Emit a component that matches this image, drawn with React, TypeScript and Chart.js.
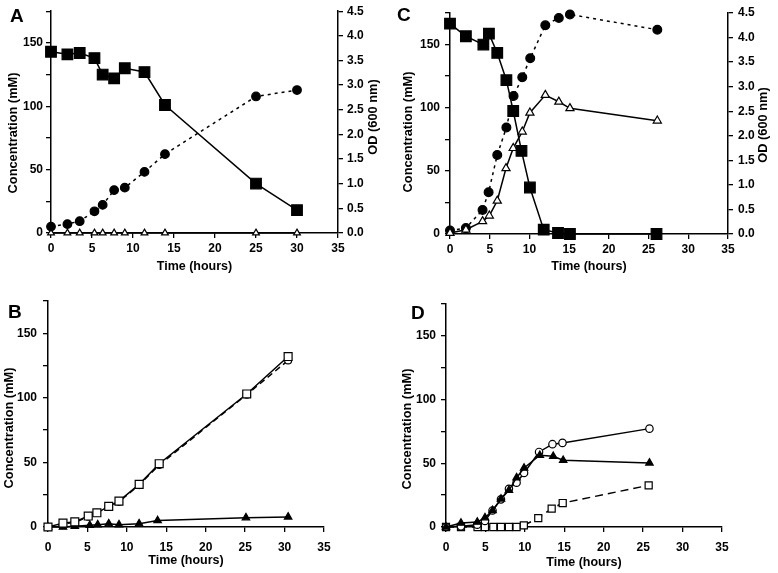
import React, { useEffect, useRef } from 'react';
import { Chart, registerables } from 'chart.js';
Chart.register(...registerables);

const FONT = '"Liberation Sans", Arial, Helvetica, sans-serif';

// ---------- Panel A ----------
const aTime = [0, 2, 3.5, 5.3, 6.3, 7.7, 9, 11.4, 13.9, 25, 30];
const aSquares = [143, 141, 142, 138, 125, 122, 130, 127, 101, 39, 18];
const aOD = [0.13, 0.18, 0.24, 0.44, 0.57, 0.87, 0.92, 1.24, 1.6, 2.77, 2.9];
const aTriangles = [0, 0, 0, 0, 0, 0, 0, 0, 0, 0, 0];

// ---------- Panel B ----------
const bSqTime = [0, 1.9, 3.4, 5.1, 6.2, 7.7, 9.0, 11.56, 14.1, 25.2, 30.45];
const bSquares = [0, 3, 4, 8.5, 11, 16, 20, 33, 49, 103, 132];
const bCircles = [0, 2.5, 3.5, 8, 11, 16, 19.5, 32.5, 48, 102.5, 129];
const bTriTime = [0, 1.9, 3.4, 5.3, 6.3, 7.7, 9.0, 11.55, 13.9, 25.1, 30.45];
const bTriangles = [0, 0, 0.5, 1.3, 1.8, 2.6, 1.8, 2.6, 5, 7.2, 7.8];

// ---------- Panel C ----------
const cSqTime = [0, 2, 4.2, 4.9, 5.95, 7.1, 7.96, 9.0, 10.06, 11.8, 13.6, 15.1, 26];
const cSquares = [166.6, 156.6, 150, 158.7, 143.4, 121.8, 97.4, 65.8, 36.8, 3.4, 0.8, 0, 0];
const cODTime = [0, 2, 4.1, 4.86, 5.95, 7.1, 8.0, 9.1, 10.1, 12.0, 13.7, 15.1, 26.1];
const cOD = [0.07, 0.12, 0.49, 0.85, 1.61, 2.17, 2.81, 3.19, 3.58, 4.25, 4.4, 4.47, 4.16];
const cTriTime = [0, 2, 4.1, 4.95, 5.95, 7.05, 7.96, 9.1, 10.06, 12.0, 13.7, 15.1, 26.1];
const cTriangles = [0.8, 3.4, 10, 14.5, 26.3, 52, 68, 81, 96, 110, 104.7, 99.5, 89.7];

// ---------- Panel D ----------
const dCircTime = [0, 1.9, 3.97, 4.94, 5.9, 6.97, 7.98, 8.95, 9.9, 11.8, 13.5, 14.77, 25.8];
const dCircles = [0, 0.5, 1.8, 4.7, 13, 21.7, 30, 34.8, 42.4, 58.9, 65, 66, 77.2];
const dTriTime = [0, 1.9, 3.97, 4.94, 5.9, 6.97, 7.98, 8.95, 9.9, 11.9, 13.6, 14.86, 25.8];
const dTriangles = [0, 3.1, 3.9, 7.3, 13, 22, 28.8, 38.7, 46.3, 56.3, 55.5, 52.4, 50.3];
const dSqTime = [0, 1.9, 4, 4.94, 6.0, 6.97, 7.98, 8.95, 9.87, 11.7, 13.4, 14.8, 25.7];
const dSquares = [0, 0, 0, 0, 0, 0, 0, 0, 1.3, 7, 14.4, 18.8, 32.7];

// Axis settings
const X_MIN = 0, X_MAX = 35, X_STEP = 5;
const Y_MIN = 0, Y_MAX = 175, Y_STEP = 25, Y_LABEL_EVERY = 50;
const OD_MIN = 0, OD_MAX = 4.5, OD_STEP = 0.5;
const X_TITLE = 'Time (hours)';
const Y_TITLE = 'Concentration (mM)';
const Y2_TITLE = 'OD (600 nm)';

const pts = (xs: number[], ys: number[]) => xs.map((x, i) => ({ x, y: ys[i] }));

function series(data: any[], o: any) {
  return {
    data,
    borderColor: '#000',
    borderWidth: 1.5,
    borderDash: o.dash || [],
    pointStyle: o.style,
    pointRadius: o.r,
    pointHoverRadius: o.r,
    pointBackgroundColor: o.fill,
    pointBorderColor: '#000',
    pointBorderWidth: 1.2,
    fill: false,
    tension: 0,
    clip: false,
    showLine: true,
    yAxisID: o.axis || 'y',
  };
}

function textPlugin(items: any[]) {
  return {
    id: 'texts',
    afterDraw(chart: any) {
      const ctx = chart.ctx;
      items.forEach((it) => {
        ctx.save();
        ctx.font = it.font;
        ctx.fillStyle = '#000';
        ctx.textAlign = it.align || 'center';
        ctx.textBaseline = it.baseline || 'middle';
        ctx.translate(it.x, it.y);
        ctx.rotate(it.rot || 0);
        ctx.fillText(it.text, 0, 0);
        ctx.restore();
      });
    },
  };
}

const tickFont = { family: FONT, size: 12, weight: 'bold' as const };
const titleFont = { family: FONT, size: 12.5, weight: 'bold' as const };

function makePanel(canvas: HTMLCanvasElement, s: any) {
  const scales: any = {
    x: {
      type: 'linear',
      position: 'bottom',
      min: X_MIN,
      max: X_MAX,
      ticks: { stepSize: X_STEP, font: tickFont, color: '#000', padding: s.xTickPad, maxRotation: 0, autoSkip: false },
      grid: { display: true, drawOnChartArea: false, drawTicks: true, tickLength: 5, color: '#000', lineWidth: 1.3 },
      border: { display: true, color: '#000', width: 1.5 },
      title: { display: true, text: X_TITLE, font: titleFont, color: '#000', padding: { top: 0, bottom: s.xTitlePad } },
      afterFit: (sc: any) => { sc.height = s.xHeight; },
    },
    y: {
      type: 'linear',
      position: 'left',
      min: Y_MIN,
      max: Y_MAX,
      ticks: {
        stepSize: Y_STEP, font: tickFont, color: '#000', padding: s.yTickPad, autoSkip: false,
        callback: (v: any) => (Number(v) % Y_LABEL_EVERY === 0 ? String(v) : ''),
      },
      grid: { display: true, drawOnChartArea: false, drawTicks: true, tickLength: 5, color: '#000', lineWidth: 1.3 },
      border: { display: true, color: '#000', width: 1.5 },
      afterFit: (sc: any) => { sc.width = s.yWidth; },
    },
  };
  if (s.y2Width) {
    scales.y2 = {
      type: 'linear',
      position: 'right',
      min: OD_MIN,
      max: OD_MAX,
      ticks: {
        stepSize: OD_STEP, font: tickFont, color: '#000', padding: s.y2TickPad, autoSkip: false,
        callback: (v: any) => Number(v).toFixed(1),
      },
      grid: { display: true, drawOnChartArea: false, drawTicks: true, tickLength: 5, color: '#000', lineWidth: 1.3 },
      border: { display: true, color: '#000', width: 1.5 },
      afterFit: (sc: any) => { sc.width = s.y2Width; },
    };
  }
  const texts: any[] = [
    { text: s.letter, x: s.letterPos[0], y: s.letterPos[1], font: `bold 19px ${FONT}`, align: 'left', baseline: 'alphabetic' },
    { text: Y_TITLE, x: s.yTitlePos[0], y: s.yTitlePos[1], rot: -Math.PI / 2, font: `bold 12.8px ${FONT}` },
  ];
  if (s.y2TitlePos) {
    texts.push({ text: Y2_TITLE, x: s.y2TitlePos[0], y: s.y2TitlePos[1], rot: -Math.PI / 2, font: `bold 12.8px ${FONT}` });
  }
  return new Chart(canvas, {
    type: 'line',
    data: { datasets: s.datasets },
    options: {
      animation: false,
      responsive: false,
      maintainAspectRatio: false,
      devicePixelRatio: 1,
      events: [],
      layout: { padding: { top: s.padTop, right: s.padRight, left: 0, bottom: 0 } },
      plugins: { legend: { display: false }, tooltip: { enabled: false } },
      scales,
    } as any,
    plugins: [textPlugin(texts)],
  });
}

const panels = [
  {
    left: 0, top: 0, width: 389, height: 275,
    padTop: 9, padRight: 0, yWidth: 51, y2Width: 51, xHeight: 42,
    xTickPad: 3, xTitlePad: 1, yTickPad: 3, y2TickPad: 4,
    letter: 'A', letterPos: [10, 22], yTitlePos: [13.3, 133], y2TitlePos: [373.3, 117],
    datasets: () => [
      series(pts(aTime, aSquares), { style: 'rect', r: 7.5, fill: '#000' }),
      series(pts(aTime, aOD), { style: 'circle', r: 4.3, fill: '#000', dash: [3, 4], axis: 'y2' }),
      series(pts(aTime, aTriangles), { style: 'triangle', r: 3.9, fill: '#fff' }),
    ],
  },
  {
    left: 0, top: 275, width: 389, height: 298,
    padTop: 26, padRight: 65, yWidth: 48, xHeight: 46,
    xTickPad: 8, xTitlePad: 4.5, yTickPad: 6,
    letter: 'B', letterPos: [8, 43], yTitlePos: [9, 153],
    datasets: () => [
      series(pts(bSqTime, bSquares), { style: 'rect', r: 5.6, fill: '#fff' }),
      series(pts(bTriTime, bTriangles), { style: 'triangle', r: 4.3, fill: '#000' }),
      series(pts(bSqTime, bCircles), { style: 'circle', r: 3.5, fill: '#fff', dash: [6, 4] }),
    ],
  },
  {
    left: 389, top: 0, width: 389, height: 275,
    padTop: 13, padRight: 0, yWidth: 61, y2Width: 50, xHeight: 41,
    xTickPad: 3, xTitlePad: 1, yTickPad: 5, y2TickPad: 5,
    letter: 'C', letterPos: [8, 21], yTitlePos: [19.3, 132], y2TitlePos: [374.3, 125],
    datasets: () => [
      series(pts(cSqTime, cSquares), { style: 'rect', r: 7.5, fill: '#000' }),
      series(pts(cTriTime, cTriangles), { style: 'triangle', r: 4.7, fill: '#fff' }),
      series(pts(cODTime, cOD), { style: 'circle', r: 4.4, fill: '#000', dash: [3, 4], axis: 'y2' }),
    ],
  },
  {
    left: 389, top: 275, width: 389, height: 298,
    padTop: 29, padRight: 56, yWidth: 57, xHeight: 46,
    xTickPad: 8, xTitlePad: 2.5, yTickPad: 5,
    letter: 'D', letterPos: [22, 44], yTitlePos: [18.3, 154],
    datasets: () => [
      series(pts(dTriTime, dTriangles), { style: 'triangle', r: 4.3, fill: '#000' }),
      series(pts(dCircTime, dCircles), { style: 'circle', r: 3.7, fill: '#fff' }),
      series(pts(dSqTime, dSquares), { style: 'rect', r: 5, fill: '#fff', dash: [8, 5] }),
    ],
  },
];

export default function App() {
  const refs = useRef<(HTMLCanvasElement | null)[]>([]);
  useEffect(() => {
    const charts = panels.map((p, i) => {
      const c = refs.current[i]!;
      return makePanel(c, { ...p, datasets: p.datasets() });
    });
    return () => charts.forEach((c) => c.destroy());
  }, []);
  return (
    <div style={{ position: 'absolute', left: 0, top: 0, width: 778, height: 573, background: '#fff' }}>
      {panels.map((p, i) => (
        <canvas
          key={i}
          ref={(el) => { refs.current[i] = el; }}
          width={p.width}
          height={p.height}
          style={{ position: 'absolute', left: p.left, top: p.top, width: p.width, height: p.height }}
        />
      ))}
    </div>
  );
}
